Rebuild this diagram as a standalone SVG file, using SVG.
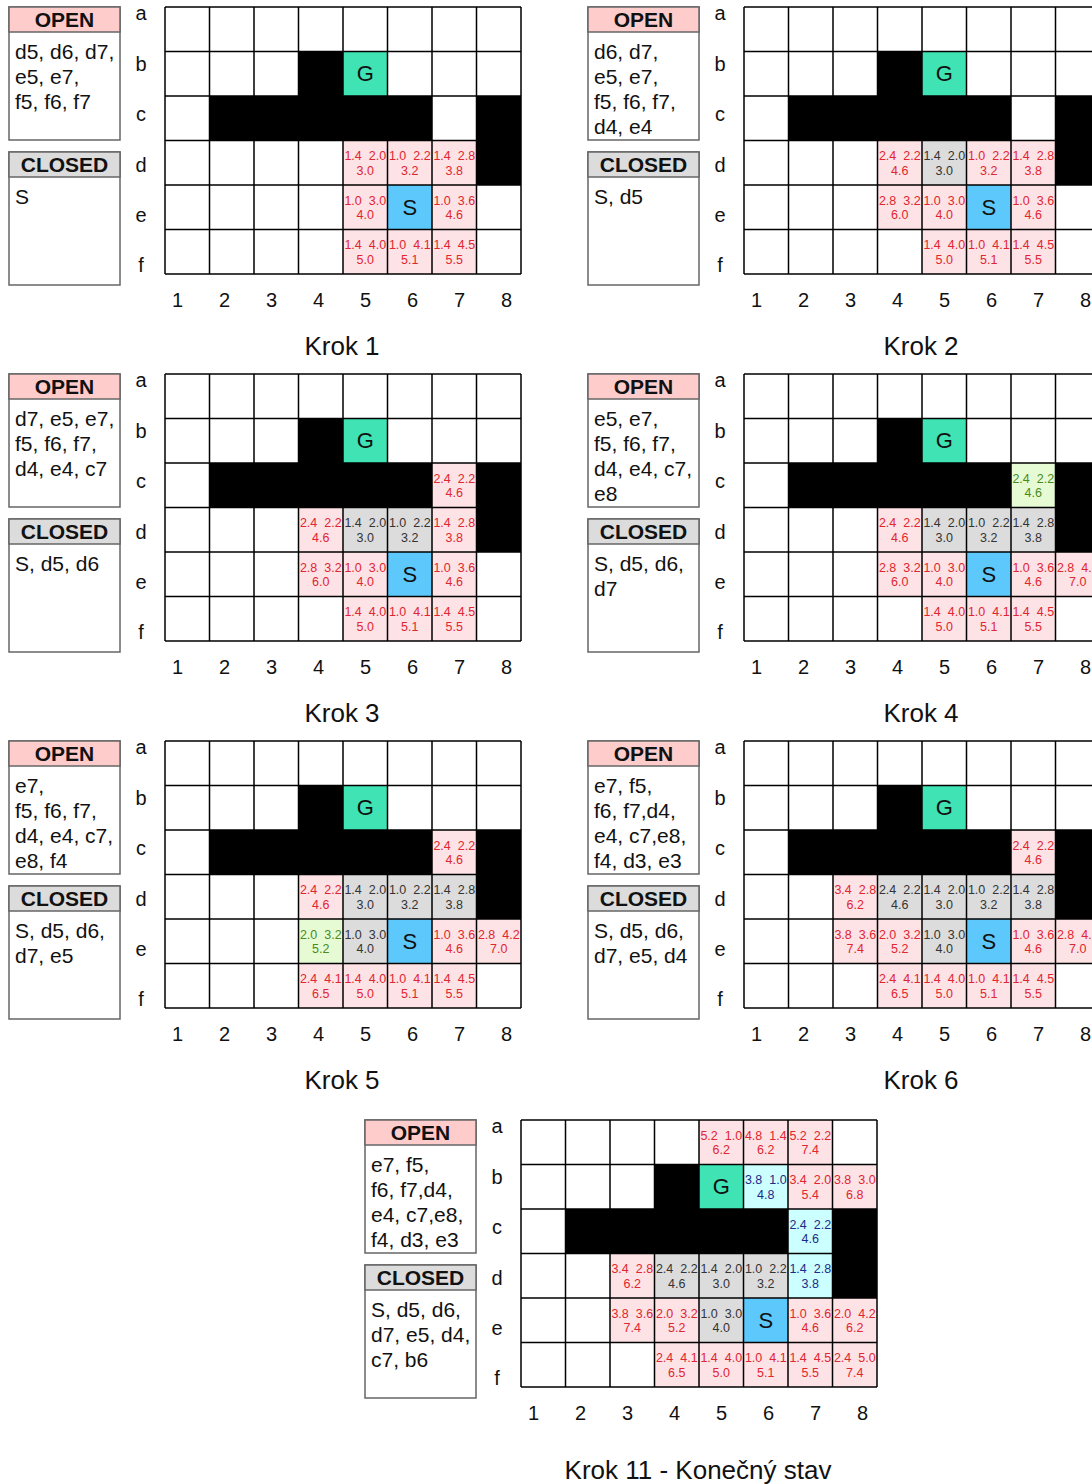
<svg xmlns="http://www.w3.org/2000/svg" xmlns:xlink="http://www.w3.org/1999/xlink" width="1092" height="1484" viewBox="0 0 1092 1484">
<style>
text{font-family:"Liberation Sans",Arial,sans-serif}
.hd{font-size:21px;font-weight:bold;text-anchor:middle;fill:#111}
.ls{font-size:21px;fill:#111}
.ax{font-size:20px;text-anchor:middle;fill:#111}
.kr{font-size:26px;text-anchor:middle;fill:#111}
.v{font-size:12.5px;text-anchor:middle;white-space:pre}
.big{font-size:22px;text-anchor:middle;fill:#111}
.box{fill:#fff;stroke:#666;stroke-width:1.5}
.ho{fill:#ffcccc;stroke:#666;stroke-width:1.5}
.hc{fill:#dcdcdc;stroke:#666;stroke-width:1.5}
.p{fill:#fde2e6}.g{fill:#dcdcdc}.l{fill:#e6fbd3}.cy{fill:#ccffff}
.tr{fill:#e0262f}.tg{fill:#333}.tl{fill:#4a8a1c}.tc{fill:#1c2a8a}
.gl{fill:none;stroke:#000;stroke-width:1.5}
</style>
<defs>
<path id="grid" class="gl" d="M165 7V274M209.5 7V274M254 7V274M298.5 7V274M343 7V274M387.5 7V274M432 7V274M476.5 7V274M521 7V274M165 7H521M165 51.5H521M165 96H521M165 140.5H521M165 185H521M165 229.5H521M165 274H521"/>
<g id="base">
<rect x="165" y="7" width="356" height="267" fill="#fff"/>
<rect x="298.5" y="51.5" width="44.5" height="44.5" fill="#000"/>
<rect x="209.5" y="96" width="222.5" height="44.5" fill="#000"/>
<rect x="476.5" y="96" width="44.5" height="89" fill="#000"/>
<rect x="343" y="51.5" width="44.5" height="44.5" fill="#40e3b4"/>
<rect x="387.5" y="185" width="44.5" height="44.5" fill="#5cc8fb"/>
</g>
</defs>

<!-- Krok 1 -->
<g id="krok1">
<g id="krok1-open"><rect class="box" x="9" y="7" width="111" height="133"/><rect class="ho" x="9" y="7" width="111" height="25"/><text class="hd" x="64.5" y="27">OPEN</text>
<text class="ls" x="15" y="59">d5, d6, d7,</text><text class="ls" x="15" y="84">e5, e7,</text><text class="ls" x="15" y="109">f5, f6, f7</text></g>
<g id="krok1-closed"><rect class="box" x="9" y="152" width="111" height="133"/><rect class="hc" x="9" y="152" width="111" height="25"/><text class="hd" x="64.5" y="172">CLOSED</text>
<text class="ls" x="15" y="204">S</text></g>
<g id="krok1-grid">
<use href="#base"/>
<rect class="p" x="343" y="140.5" width="44.5" height="44.5"/><rect class="p" x="387.5" y="140.5" width="44.5" height="44.5"/><rect class="p" x="432" y="140.5" width="44.5" height="44.5"/>
<rect class="p" x="343" y="185" width="44.5" height="44.5"/><rect class="p" x="432" y="185" width="44.5" height="44.5"/>
<rect class="p" x="343" y="229.5" width="44.5" height="44.5"/><rect class="p" x="387.5" y="229.5" width="44.5" height="44.5"/><rect class="p" x="432" y="229.5" width="44.5" height="44.5"/>
<use href="#grid"/>
<text class="big" x="365.25" y="81">G</text><text class="big" x="409.75" y="215">S</text>
<text class="v tr" x="365.25" y="160">1.4  2.0<tspan x="365.25" dy="14.5">3.0</tspan></text>
<text class="v tr" x="409.75" y="160">1.0  2.2<tspan x="409.75" dy="14.5">3.2</tspan></text>
<text class="v tr" x="454.25" y="160">1.4  2.8<tspan x="454.25" dy="14.5">3.8</tspan></text>
<text class="v tr" x="365.25" y="204.5">1.0  3.0<tspan x="365.25" dy="14.5">4.0</tspan></text>
<text class="v tr" x="454.25" y="204.5">1.0  3.6<tspan x="454.25" dy="14.5">4.6</tspan></text>
<text class="v tr" x="365.25" y="249">1.4  4.0<tspan x="365.25" dy="14.5">5.0</tspan></text>
<text class="v tr" x="409.75" y="249">1.0  4.1<tspan x="409.75" dy="14.5">5.1</tspan></text>
<text class="v tr" x="454.25" y="249">1.4  4.5<tspan x="454.25" dy="14.5">5.5</tspan></text>
</g>
<g id="krok1-axes">
<text class="ax" x="141" y="20">a</text><text class="ax" x="141" y="71">b</text><text class="ax" x="141" y="121">c</text><text class="ax" x="141" y="172">d</text><text class="ax" x="141" y="222">e</text><text class="ax" x="141" y="272">f</text>
<text class="ax" x="177.5" y="307">1</text><text class="ax" x="224.5" y="307">2</text><text class="ax" x="271.5" y="307">3</text><text class="ax" x="318.5" y="307">4</text><text class="ax" x="365.5" y="307">5</text><text class="ax" x="412.5" y="307">6</text><text class="ax" x="459.5" y="307">7</text><text class="ax" x="506.5" y="307">8</text>
<text class="kr" x="342" y="355">Krok 1</text>
</g>
</g>

<!-- Krok 2 -->
<g id="krok2" transform="translate(579,0)">
<g id="krok2-open"><rect class="box" x="9" y="7" width="111" height="133"/><rect class="ho" x="9" y="7" width="111" height="25"/><text class="hd" x="64.5" y="27">OPEN</text>
<text class="ls" x="15" y="59">d6, d7,</text><text class="ls" x="15" y="84">e5, e7,</text><text class="ls" x="15" y="109">f5, f6, f7,</text><text class="ls" x="15" y="134">d4, e4</text></g>
<g id="krok2-closed"><rect class="box" x="9" y="152" width="111" height="133"/><rect class="hc" x="9" y="152" width="111" height="25"/><text class="hd" x="64.5" y="172">CLOSED</text>
<text class="ls" x="15" y="204">S, d5</text></g>
<g id="krok2-grid">
<use href="#base"/>
<rect class="p" x="298.5" y="140.5" width="44.5" height="44.5"/><rect class="g" x="343" y="140.5" width="44.5" height="44.5"/><rect class="p" x="387.5" y="140.5" width="44.5" height="44.5"/><rect class="p" x="432" y="140.5" width="44.5" height="44.5"/>
<rect class="p" x="298.5" y="185" width="44.5" height="44.5"/><rect class="p" x="343" y="185" width="44.5" height="44.5"/><rect class="p" x="432" y="185" width="44.5" height="44.5"/>
<rect class="p" x="343" y="229.5" width="44.5" height="44.5"/><rect class="p" x="387.5" y="229.5" width="44.5" height="44.5"/><rect class="p" x="432" y="229.5" width="44.5" height="44.5"/>
<use href="#grid"/>
<text class="big" x="365.25" y="81">G</text><text class="big" x="409.75" y="215">S</text>
<text class="v tr" x="320.75" y="160">2.4  2.2<tspan x="320.75" dy="14.5">4.6</tspan></text>
<text class="v tg" x="365.25" y="160">1.4  2.0<tspan x="365.25" dy="14.5">3.0</tspan></text>
<text class="v tr" x="409.75" y="160">1.0  2.2<tspan x="409.75" dy="14.5">3.2</tspan></text>
<text class="v tr" x="454.25" y="160">1.4  2.8<tspan x="454.25" dy="14.5">3.8</tspan></text>
<text class="v tr" x="320.75" y="204.5">2.8  3.2<tspan x="320.75" dy="14.5">6.0</tspan></text>
<text class="v tr" x="365.25" y="204.5">1.0  3.0<tspan x="365.25" dy="14.5">4.0</tspan></text>
<text class="v tr" x="454.25" y="204.5">1.0  3.6<tspan x="454.25" dy="14.5">4.6</tspan></text>
<text class="v tr" x="365.25" y="249">1.4  4.0<tspan x="365.25" dy="14.5">5.0</tspan></text>
<text class="v tr" x="409.75" y="249">1.0  4.1<tspan x="409.75" dy="14.5">5.1</tspan></text>
<text class="v tr" x="454.25" y="249">1.4  4.5<tspan x="454.25" dy="14.5">5.5</tspan></text>
</g>
<g id="krok2-axes">
<text class="ax" x="141" y="20">a</text><text class="ax" x="141" y="71">b</text><text class="ax" x="141" y="121">c</text><text class="ax" x="141" y="172">d</text><text class="ax" x="141" y="222">e</text><text class="ax" x="141" y="272">f</text>
<text class="ax" x="177.5" y="307">1</text><text class="ax" x="224.5" y="307">2</text><text class="ax" x="271.5" y="307">3</text><text class="ax" x="318.5" y="307">4</text><text class="ax" x="365.5" y="307">5</text><text class="ax" x="412.5" y="307">6</text><text class="ax" x="459.5" y="307">7</text><text class="ax" x="506.5" y="307">8</text>
<text class="kr" x="342" y="355">Krok 2</text>
</g>
</g>

<!-- Krok 3 -->
<g id="krok3" transform="translate(0,367)">
<g id="krok3-open"><rect class="box" x="9" y="7" width="111" height="133"/><rect class="ho" x="9" y="7" width="111" height="25"/><text class="hd" x="64.5" y="27">OPEN</text>
<text class="ls" x="15" y="59">d7, e5, e7,</text><text class="ls" x="15" y="84">f5, f6, f7,</text><text class="ls" x="15" y="109">d4, e4, c7</text></g>
<g id="krok3-closed"><rect class="box" x="9" y="152" width="111" height="133"/><rect class="hc" x="9" y="152" width="111" height="25"/><text class="hd" x="64.5" y="172">CLOSED</text>
<text class="ls" x="15" y="204">S, d5, d6</text></g>
<g id="krok3-grid">
<use href="#base"/>
<rect class="p" x="432" y="96" width="44.5" height="44.5"/>
<rect class="p" x="298.5" y="140.5" width="44.5" height="44.5"/><rect class="g" x="343" y="140.5" width="44.5" height="44.5"/><rect class="g" x="387.5" y="140.5" width="44.5" height="44.5"/><rect class="p" x="432" y="140.5" width="44.5" height="44.5"/>
<rect class="p" x="298.5" y="185" width="44.5" height="44.5"/><rect class="p" x="343" y="185" width="44.5" height="44.5"/><rect class="p" x="432" y="185" width="44.5" height="44.5"/>
<rect class="p" x="343" y="229.5" width="44.5" height="44.5"/><rect class="p" x="387.5" y="229.5" width="44.5" height="44.5"/><rect class="p" x="432" y="229.5" width="44.5" height="44.5"/>
<use href="#grid"/>
<text class="big" x="365.25" y="81">G</text><text class="big" x="409.75" y="215">S</text>
<text class="v tr" x="454.25" y="115.5">2.4  2.2<tspan x="454.25" dy="14.5">4.6</tspan></text>
<text class="v tr" x="320.75" y="160">2.4  2.2<tspan x="320.75" dy="14.5">4.6</tspan></text>
<text class="v tg" x="365.25" y="160">1.4  2.0<tspan x="365.25" dy="14.5">3.0</tspan></text>
<text class="v tg" x="409.75" y="160">1.0  2.2<tspan x="409.75" dy="14.5">3.2</tspan></text>
<text class="v tr" x="454.25" y="160">1.4  2.8<tspan x="454.25" dy="14.5">3.8</tspan></text>
<text class="v tr" x="320.75" y="204.5">2.8  3.2<tspan x="320.75" dy="14.5">6.0</tspan></text>
<text class="v tr" x="365.25" y="204.5">1.0  3.0<tspan x="365.25" dy="14.5">4.0</tspan></text>
<text class="v tr" x="454.25" y="204.5">1.0  3.6<tspan x="454.25" dy="14.5">4.6</tspan></text>
<text class="v tr" x="365.25" y="249">1.4  4.0<tspan x="365.25" dy="14.5">5.0</tspan></text>
<text class="v tr" x="409.75" y="249">1.0  4.1<tspan x="409.75" dy="14.5">5.1</tspan></text>
<text class="v tr" x="454.25" y="249">1.4  4.5<tspan x="454.25" dy="14.5">5.5</tspan></text>
</g>
<g id="krok3-axes">
<text class="ax" x="141" y="20">a</text><text class="ax" x="141" y="71">b</text><text class="ax" x="141" y="121">c</text><text class="ax" x="141" y="172">d</text><text class="ax" x="141" y="222">e</text><text class="ax" x="141" y="272">f</text>
<text class="ax" x="177.5" y="307">1</text><text class="ax" x="224.5" y="307">2</text><text class="ax" x="271.5" y="307">3</text><text class="ax" x="318.5" y="307">4</text><text class="ax" x="365.5" y="307">5</text><text class="ax" x="412.5" y="307">6</text><text class="ax" x="459.5" y="307">7</text><text class="ax" x="506.5" y="307">8</text>
<text class="kr" x="342" y="355">Krok 3</text>
</g>
</g>

<!-- Krok 4 -->
<g id="krok4" transform="translate(579,367)">
<g id="krok4-open"><rect class="box" x="9" y="7" width="111" height="133"/><rect class="ho" x="9" y="7" width="111" height="25"/><text class="hd" x="64.5" y="27">OPEN</text>
<text class="ls" x="15" y="59">e5, e7,</text><text class="ls" x="15" y="84">f5, f6, f7,</text><text class="ls" x="15" y="109">d4, e4, c7,</text><text class="ls" x="15" y="134">e8</text></g>
<g id="krok4-closed"><rect class="box" x="9" y="152" width="111" height="133"/><rect class="hc" x="9" y="152" width="111" height="25"/><text class="hd" x="64.5" y="172">CLOSED</text>
<text class="ls" x="15" y="204">S, d5, d6,</text><text class="ls" x="15" y="229">d7</text></g>
<g id="krok4-grid">
<use href="#base"/>
<rect class="l" x="432" y="96" width="44.5" height="44.5"/>
<rect class="p" x="298.5" y="140.5" width="44.5" height="44.5"/><rect class="g" x="343" y="140.5" width="44.5" height="44.5"/><rect class="g" x="387.5" y="140.5" width="44.5" height="44.5"/><rect class="g" x="432" y="140.5" width="44.5" height="44.5"/>
<rect class="p" x="298.5" y="185" width="44.5" height="44.5"/><rect class="p" x="343" y="185" width="44.5" height="44.5"/><rect class="p" x="432" y="185" width="44.5" height="44.5"/><rect class="p" x="476.5" y="185" width="44.5" height="44.5"/>
<rect class="p" x="343" y="229.5" width="44.5" height="44.5"/><rect class="p" x="387.5" y="229.5" width="44.5" height="44.5"/><rect class="p" x="432" y="229.5" width="44.5" height="44.5"/>
<use href="#grid"/>
<text class="big" x="365.25" y="81">G</text><text class="big" x="409.75" y="215">S</text>
<text class="v tl" x="454.25" y="115.5">2.4  2.2<tspan x="454.25" dy="14.5">4.6</tspan></text>
<text class="v tr" x="320.75" y="160">2.4  2.2<tspan x="320.75" dy="14.5">4.6</tspan></text>
<text class="v tg" x="365.25" y="160">1.4  2.0<tspan x="365.25" dy="14.5">3.0</tspan></text>
<text class="v tg" x="409.75" y="160">1.0  2.2<tspan x="409.75" dy="14.5">3.2</tspan></text>
<text class="v tg" x="454.25" y="160">1.4  2.8<tspan x="454.25" dy="14.5">3.8</tspan></text>
<text class="v tr" x="320.75" y="204.5">2.8  3.2<tspan x="320.75" dy="14.5">6.0</tspan></text>
<text class="v tr" x="365.25" y="204.5">1.0  3.0<tspan x="365.25" dy="14.5">4.0</tspan></text>
<text class="v tr" x="454.25" y="204.5">1.0  3.6<tspan x="454.25" dy="14.5">4.6</tspan></text>
<text class="v tr" x="498.75" y="204.5">2.8  4.2<tspan x="498.75" dy="14.5">7.0</tspan></text>
<text class="v tr" x="365.25" y="249">1.4  4.0<tspan x="365.25" dy="14.5">5.0</tspan></text>
<text class="v tr" x="409.75" y="249">1.0  4.1<tspan x="409.75" dy="14.5">5.1</tspan></text>
<text class="v tr" x="454.25" y="249">1.4  4.5<tspan x="454.25" dy="14.5">5.5</tspan></text>
</g>
<g id="krok4-axes">
<text class="ax" x="141" y="20">a</text><text class="ax" x="141" y="71">b</text><text class="ax" x="141" y="121">c</text><text class="ax" x="141" y="172">d</text><text class="ax" x="141" y="222">e</text><text class="ax" x="141" y="272">f</text>
<text class="ax" x="177.5" y="307">1</text><text class="ax" x="224.5" y="307">2</text><text class="ax" x="271.5" y="307">3</text><text class="ax" x="318.5" y="307">4</text><text class="ax" x="365.5" y="307">5</text><text class="ax" x="412.5" y="307">6</text><text class="ax" x="459.5" y="307">7</text><text class="ax" x="506.5" y="307">8</text>
<text class="kr" x="342" y="355">Krok 4</text>
</g>
</g>

<!-- Krok 5 -->
<g id="krok5" transform="translate(0,734)">
<g id="krok5-open"><rect class="box" x="9" y="7" width="111" height="133"/><rect class="ho" x="9" y="7" width="111" height="25"/><text class="hd" x="64.5" y="27">OPEN</text>
<text class="ls" x="15" y="59">e7,</text><text class="ls" x="15" y="84">f5, f6, f7,</text><text class="ls" x="15" y="109">d4, e4, c7,</text><text class="ls" x="15" y="134">e8, f4</text></g>
<g id="krok5-closed"><rect class="box" x="9" y="152" width="111" height="133"/><rect class="hc" x="9" y="152" width="111" height="25"/><text class="hd" x="64.5" y="172">CLOSED</text>
<text class="ls" x="15" y="204">S, d5, d6,</text><text class="ls" x="15" y="229">d7, e5</text></g>
<g id="krok5-grid">
<use href="#base"/>
<rect class="p" x="432" y="96" width="44.5" height="44.5"/>
<rect class="p" x="298.5" y="140.5" width="44.5" height="44.5"/><rect class="g" x="343" y="140.5" width="44.5" height="44.5"/><rect class="g" x="387.5" y="140.5" width="44.5" height="44.5"/><rect class="g" x="432" y="140.5" width="44.5" height="44.5"/>
<rect class="l" x="298.5" y="185" width="44.5" height="44.5"/><rect class="g" x="343" y="185" width="44.5" height="44.5"/><rect class="p" x="432" y="185" width="44.5" height="44.5"/><rect class="p" x="476.5" y="185" width="44.5" height="44.5"/>
<rect class="p" x="298.5" y="229.5" width="44.5" height="44.5"/><rect class="p" x="343" y="229.5" width="44.5" height="44.5"/><rect class="p" x="387.5" y="229.5" width="44.5" height="44.5"/><rect class="p" x="432" y="229.5" width="44.5" height="44.5"/>
<use href="#grid"/>
<text class="big" x="365.25" y="81">G</text><text class="big" x="409.75" y="215">S</text>
<text class="v tr" x="454.25" y="115.5">2.4  2.2<tspan x="454.25" dy="14.5">4.6</tspan></text>
<text class="v tr" x="320.75" y="160">2.4  2.2<tspan x="320.75" dy="14.5">4.6</tspan></text>
<text class="v tg" x="365.25" y="160">1.4  2.0<tspan x="365.25" dy="14.5">3.0</tspan></text>
<text class="v tg" x="409.75" y="160">1.0  2.2<tspan x="409.75" dy="14.5">3.2</tspan></text>
<text class="v tg" x="454.25" y="160">1.4  2.8<tspan x="454.25" dy="14.5">3.8</tspan></text>
<text class="v tl" x="320.75" y="204.5">2.0  3.2<tspan x="320.75" dy="14.5">5.2</tspan></text>
<text class="v tg" x="365.25" y="204.5">1.0  3.0<tspan x="365.25" dy="14.5">4.0</tspan></text>
<text class="v tr" x="454.25" y="204.5">1.0  3.6<tspan x="454.25" dy="14.5">4.6</tspan></text>
<text class="v tr" x="498.75" y="204.5">2.8  4.2<tspan x="498.75" dy="14.5">7.0</tspan></text>
<text class="v tr" x="320.75" y="249">2.4  4.1<tspan x="320.75" dy="14.5">6.5</tspan></text>
<text class="v tr" x="365.25" y="249">1.4  4.0<tspan x="365.25" dy="14.5">5.0</tspan></text>
<text class="v tr" x="409.75" y="249">1.0  4.1<tspan x="409.75" dy="14.5">5.1</tspan></text>
<text class="v tr" x="454.25" y="249">1.4  4.5<tspan x="454.25" dy="14.5">5.5</tspan></text>
</g>
<g id="krok5-axes">
<text class="ax" x="141" y="20">a</text><text class="ax" x="141" y="71">b</text><text class="ax" x="141" y="121">c</text><text class="ax" x="141" y="172">d</text><text class="ax" x="141" y="222">e</text><text class="ax" x="141" y="272">f</text>
<text class="ax" x="177.5" y="307">1</text><text class="ax" x="224.5" y="307">2</text><text class="ax" x="271.5" y="307">3</text><text class="ax" x="318.5" y="307">4</text><text class="ax" x="365.5" y="307">5</text><text class="ax" x="412.5" y="307">6</text><text class="ax" x="459.5" y="307">7</text><text class="ax" x="506.5" y="307">8</text>
<text class="kr" x="342" y="355">Krok 5</text>
</g>
</g>

<!-- Krok 6 -->
<g id="krok6" transform="translate(579,734)">
<g id="krok6-open"><rect class="box" x="9" y="7" width="111" height="133"/><rect class="ho" x="9" y="7" width="111" height="25"/><text class="hd" x="64.5" y="27">OPEN</text>
<text class="ls" x="15" y="59">e7, f5,</text><text class="ls" x="15" y="84">f6, f7,d4,</text><text class="ls" x="15" y="109">e4, c7,e8,</text><text class="ls" x="15" y="134">f4, d3, e3</text></g>
<g id="krok6-closed"><rect class="box" x="9" y="152" width="111" height="133"/><rect class="hc" x="9" y="152" width="111" height="25"/><text class="hd" x="64.5" y="172">CLOSED</text>
<text class="ls" x="15" y="204">S, d5, d6,</text><text class="ls" x="15" y="229">d7, e5, d4</text></g>
<g id="krok6-grid">
<use href="#base"/>
<rect class="p" x="432" y="96" width="44.5" height="44.5"/>
<rect class="p" x="254" y="140.5" width="44.5" height="44.5"/><rect class="g" x="298.5" y="140.5" width="44.5" height="44.5"/><rect class="g" x="343" y="140.5" width="44.5" height="44.5"/><rect class="g" x="387.5" y="140.5" width="44.5" height="44.5"/><rect class="g" x="432" y="140.5" width="44.5" height="44.5"/>
<rect class="p" x="254" y="185" width="44.5" height="44.5"/><rect class="p" x="298.5" y="185" width="44.5" height="44.5"/><rect class="g" x="343" y="185" width="44.5" height="44.5"/><rect class="p" x="432" y="185" width="44.5" height="44.5"/><rect class="p" x="476.5" y="185" width="44.5" height="44.5"/>
<rect class="p" x="298.5" y="229.5" width="44.5" height="44.5"/><rect class="p" x="343" y="229.5" width="44.5" height="44.5"/><rect class="p" x="387.5" y="229.5" width="44.5" height="44.5"/><rect class="p" x="432" y="229.5" width="44.5" height="44.5"/>
<use href="#grid"/>
<text class="big" x="365.25" y="81">G</text><text class="big" x="409.75" y="215">S</text>
<text class="v tr" x="454.25" y="115.5">2.4  2.2<tspan x="454.25" dy="14.5">4.6</tspan></text>
<text class="v tr" x="276.25" y="160">3.4  2.8<tspan x="276.25" dy="14.5">6.2</tspan></text>
<text class="v tg" x="320.75" y="160">2.4  2.2<tspan x="320.75" dy="14.5">4.6</tspan></text>
<text class="v tg" x="365.25" y="160">1.4  2.0<tspan x="365.25" dy="14.5">3.0</tspan></text>
<text class="v tg" x="409.75" y="160">1.0  2.2<tspan x="409.75" dy="14.5">3.2</tspan></text>
<text class="v tg" x="454.25" y="160">1.4  2.8<tspan x="454.25" dy="14.5">3.8</tspan></text>
<text class="v tr" x="276.25" y="204.5">3.8  3.6<tspan x="276.25" dy="14.5">7.4</tspan></text>
<text class="v tr" x="320.75" y="204.5">2.0  3.2<tspan x="320.75" dy="14.5">5.2</tspan></text>
<text class="v tg" x="365.25" y="204.5">1.0  3.0<tspan x="365.25" dy="14.5">4.0</tspan></text>
<text class="v tr" x="454.25" y="204.5">1.0  3.6<tspan x="454.25" dy="14.5">4.6</tspan></text>
<text class="v tr" x="498.75" y="204.5">2.8  4.2<tspan x="498.75" dy="14.5">7.0</tspan></text>
<text class="v tr" x="320.75" y="249">2.4  4.1<tspan x="320.75" dy="14.5">6.5</tspan></text>
<text class="v tr" x="365.25" y="249">1.4  4.0<tspan x="365.25" dy="14.5">5.0</tspan></text>
<text class="v tr" x="409.75" y="249">1.0  4.1<tspan x="409.75" dy="14.5">5.1</tspan></text>
<text class="v tr" x="454.25" y="249">1.4  4.5<tspan x="454.25" dy="14.5">5.5</tspan></text>
</g>
<g id="krok6-axes">
<text class="ax" x="141" y="20">a</text><text class="ax" x="141" y="71">b</text><text class="ax" x="141" y="121">c</text><text class="ax" x="141" y="172">d</text><text class="ax" x="141" y="222">e</text><text class="ax" x="141" y="272">f</text>
<text class="ax" x="177.5" y="307">1</text><text class="ax" x="224.5" y="307">2</text><text class="ax" x="271.5" y="307">3</text><text class="ax" x="318.5" y="307">4</text><text class="ax" x="365.5" y="307">5</text><text class="ax" x="412.5" y="307">6</text><text class="ax" x="459.5" y="307">7</text><text class="ax" x="506.5" y="307">8</text>
<text class="kr" x="342" y="355">Krok 6</text>
</g>
</g>

<!-- Krok 11 -->
<g id="krok11" transform="translate(356,1113)">
<g id="krok11-open"><rect class="box" x="9" y="7" width="111" height="133"/><rect class="ho" x="9" y="7" width="111" height="25"/><text class="hd" x="64.5" y="27">OPEN</text>
<text class="ls" x="15" y="59">e7, f5,</text><text class="ls" x="15" y="84">f6, f7,d4,</text><text class="ls" x="15" y="109">e4, c7,e8,</text><text class="ls" x="15" y="134">f4, d3, e3</text></g>
<g id="krok11-closed"><rect class="box" x="9" y="152" width="111" height="133"/><rect class="hc" x="9" y="152" width="111" height="25"/><text class="hd" x="64.5" y="172">CLOSED</text>
<text class="ls" x="15" y="204">S, d5, d6,</text><text class="ls" x="15" y="229">d7, e5, d4,</text><text class="ls" x="15" y="254">c7, b6</text></g>
<g id="krok11-grid">
<use href="#base"/>
<rect class="p" x="343" y="7" width="44.5" height="44.5"/><rect class="p" x="387.5" y="7" width="44.5" height="44.5"/><rect class="p" x="432" y="7" width="44.5" height="44.5"/>
<rect class="cy" x="387.5" y="51.5" width="44.5" height="44.5"/><rect class="p" x="432" y="51.5" width="44.5" height="44.5"/><rect class="p" x="476.5" y="51.5" width="44.5" height="44.5"/>
<rect class="cy" x="432" y="96" width="44.5" height="44.5"/>
<rect class="p" x="254" y="140.5" width="44.5" height="44.5"/><rect class="g" x="298.5" y="140.5" width="44.5" height="44.5"/><rect class="g" x="343" y="140.5" width="44.5" height="44.5"/><rect class="g" x="387.5" y="140.5" width="44.5" height="44.5"/><rect class="cy" x="432" y="140.5" width="44.5" height="44.5"/>
<rect class="p" x="254" y="185" width="44.5" height="44.5"/><rect class="p" x="298.5" y="185" width="44.5" height="44.5"/><rect class="g" x="343" y="185" width="44.5" height="44.5"/><rect class="p" x="432" y="185" width="44.5" height="44.5"/><rect class="p" x="476.5" y="185" width="44.5" height="44.5"/>
<rect class="p" x="298.5" y="229.5" width="44.5" height="44.5"/><rect class="p" x="343" y="229.5" width="44.5" height="44.5"/><rect class="p" x="387.5" y="229.5" width="44.5" height="44.5"/><rect class="p" x="432" y="229.5" width="44.5" height="44.5"/><rect class="p" x="476.5" y="229.5" width="44.5" height="44.5"/>
<use href="#grid"/>
<text class="big" x="365.25" y="81">G</text><text class="big" x="409.75" y="215">S</text>
<text class="v tr" x="365.25" y="26.5">5.2  1.0<tspan x="365.25" dy="14.5">6.2</tspan></text>
<text class="v tr" x="409.75" y="26.5">4.8  1.4<tspan x="409.75" dy="14.5">6.2</tspan></text>
<text class="v tr" x="454.25" y="26.5">5.2  2.2<tspan x="454.25" dy="14.5">7.4</tspan></text>
<text class="v tc" x="409.75" y="71">3.8  1.0<tspan x="409.75" dy="14.5">4.8</tspan></text>
<text class="v tr" x="454.25" y="71">3.4  2.0<tspan x="454.25" dy="14.5">5.4</tspan></text>
<text class="v tr" x="498.75" y="71">3.8  3.0<tspan x="498.75" dy="14.5">6.8</tspan></text>
<text class="v tc" x="454.25" y="115.5">2.4  2.2<tspan x="454.25" dy="14.5">4.6</tspan></text>
<text class="v tr" x="276.25" y="160">3.4  2.8<tspan x="276.25" dy="14.5">6.2</tspan></text>
<text class="v tg" x="320.75" y="160">2.4  2.2<tspan x="320.75" dy="14.5">4.6</tspan></text>
<text class="v tg" x="365.25" y="160">1.4  2.0<tspan x="365.25" dy="14.5">3.0</tspan></text>
<text class="v tg" x="409.75" y="160">1.0  2.2<tspan x="409.75" dy="14.5">3.2</tspan></text>
<text class="v tc" x="454.25" y="160">1.4  2.8<tspan x="454.25" dy="14.5">3.8</tspan></text>
<text class="v tr" x="276.25" y="204.5">3.8  3.6<tspan x="276.25" dy="14.5">7.4</tspan></text>
<text class="v tr" x="320.75" y="204.5">2.0  3.2<tspan x="320.75" dy="14.5">5.2</tspan></text>
<text class="v tg" x="365.25" y="204.5">1.0  3.0<tspan x="365.25" dy="14.5">4.0</tspan></text>
<text class="v tr" x="454.25" y="204.5">1.0  3.6<tspan x="454.25" dy="14.5">4.6</tspan></text>
<text class="v tr" x="498.75" y="204.5">2.0  4.2<tspan x="498.75" dy="14.5">6.2</tspan></text>
<text class="v tr" x="320.75" y="249">2.4  4.1<tspan x="320.75" dy="14.5">6.5</tspan></text>
<text class="v tr" x="365.25" y="249">1.4  4.0<tspan x="365.25" dy="14.5">5.0</tspan></text>
<text class="v tr" x="409.75" y="249">1.0  4.1<tspan x="409.75" dy="14.5">5.1</tspan></text>
<text class="v tr" x="454.25" y="249">1.4  4.5<tspan x="454.25" dy="14.5">5.5</tspan></text>
<text class="v tr" x="498.75" y="249">2.4  5.0<tspan x="498.75" dy="14.5">7.4</tspan></text>
</g>
<g id="krok11-axes">
<text class="ax" x="141" y="20">a</text><text class="ax" x="141" y="71">b</text><text class="ax" x="141" y="121">c</text><text class="ax" x="141" y="172">d</text><text class="ax" x="141" y="222">e</text><text class="ax" x="141" y="272">f</text>
<text class="ax" x="177.5" y="307">1</text><text class="ax" x="224.5" y="307">2</text><text class="ax" x="271.5" y="307">3</text><text class="ax" x="318.5" y="307">4</text><text class="ax" x="365.5" y="307">5</text><text class="ax" x="412.5" y="307">6</text><text class="ax" x="459.5" y="307">7</text><text class="ax" x="506.5" y="307">8</text>
<text class="kr" x="342" y="366">Krok 11 - Konečný stav</text>
</g>
</g>
</svg>
